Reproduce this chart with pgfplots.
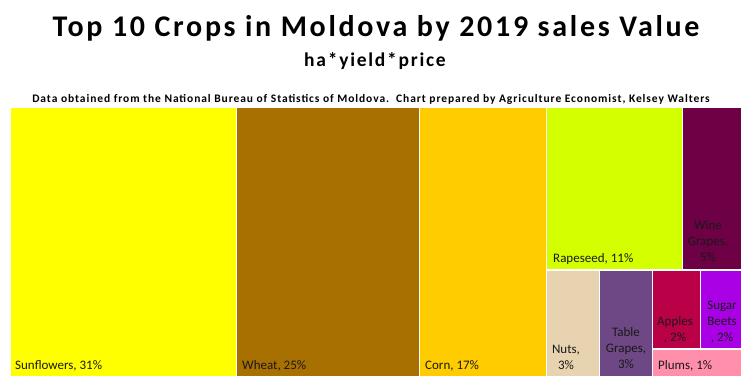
\documentclass[border=0pt]{standalone}
\usepackage{pgfplots}
\pgfplotsset{compat=1.18}
\usepackage{fontspec}
\setmainfont{Carlito}
\newfontfamily\titlefont[LetterSpace=9]{Carlito}
\newfontfamily\subfont[LetterSpace=9]{Carlito}
\newfontfamily\srcfont[LetterSpace=8]{Carlito}
\definecolor{csun}{HTML}{FFFF00}
\definecolor{cwheat}{HTML}{A87000}
\definecolor{ccorn}{HTML}{FFCC00}
\definecolor{crape}{HTML}{D4FF00}
\definecolor{cwine}{HTML}{6E0046}
\definecolor{cnuts}{HTML}{E8D3B0}
\definecolor{ctable}{HTML}{6E4785}
\definecolor{capple}{HTML}{BA0047}
\definecolor{csugar}{HTML}{AA00E6}
\definecolor{cplum}{HTML}{FF8FAB}
\begin{document}
\begin{tikzpicture}
\begin{axis}[
  width=752pt, height=384pt, scale only axis,
  xmin=0, xmax=752, ymin=0, ymax=384, y dir=reverse,
  hide axis, clip=false,
  every axis plot/.append style={draw=white, line width=1.2pt},
]
\addplot[draw=none, fill=white] coordinates {(0,0) (752,0) (752,384) (0,384)} -- cycle;
% treemap tiles (x1,y1)-(x2,y2) in picture units
\addplot[fill=csun]   coordinates {(10,107) (236.5,107) (236.5,377) (10,377)} -- cycle;
\addplot[fill=cwheat] coordinates {(236.5,107) (419.5,107) (419.5,377) (236.5,377)} -- cycle;
\addplot[fill=ccorn]  coordinates {(419.5,107) (546.5,107) (546.5,377) (419.5,377)} -- cycle;
\addplot[fill=crape]  coordinates {(546.5,107) (682.5,107) (682.5,270) (546.5,270)} -- cycle;
\addplot[fill=cwine]  coordinates {(682.5,107) (742,107) (742,270) (682.5,270)} -- cycle;
\addplot[fill=cnuts]  coordinates {(546.5,270) (599.5,270) (599.5,377) (546.5,377)} -- cycle;
\addplot[fill=ctable] coordinates {(599.5,270) (652.5,270) (652.5,377) (599.5,377)} -- cycle;
\addplot[fill=capple] coordinates {(652.5,270) (700.5,270) (700.5,349) (652.5,349)} -- cycle;
\addplot[fill=csugar] coordinates {(700.5,270) (742,270) (742,349) (700.5,349)} -- cycle;
\addplot[fill=cplum]  coordinates {(652.5,349) (742,349) (742,377) (652.5,377)} -- cycle;
% titles
\node[anchor=base, inner sep=0pt, font=\titlefont\bfseries\fontsize{30}{34}\selectfont] at (axis cs:376,36) {Top 10 Crops in Moldova by 2019 sales Value};
\node[anchor=base, inner sep=0pt, font=\subfont\bfseries\fontsize{19.5}{22}\selectfont] at (axis cs:375,66) {ha*yield*price};
\node[anchor=base, inner sep=0pt, font=\srcfont\bfseries\fontsize{11.5}{14}\selectfont] at (axis cs:371,102) {Data obtained from the National Bureau of Statistics of Moldova.\ \ Chart prepared by Agriculture Economist, Kelsey Walters};
% labels
\begin{scope}[every node/.style={font=\fontsize{13}{15.5}\selectfont, inner sep=0pt, text=black!90}]
\node[anchor=base west] at (axis cs:15,369) {Sunflowers, 31\%};
\node[anchor=base west] at (axis cs:242,369) {Wheat, 25\%};
\node[anchor=base west] at (axis cs:425,369) {Corn, 17\%};
\node[anchor=base west] at (axis cs:553,262) {Rapeseed, 11\%};
\node[anchor=base] at (axis cs:708,229) {Wine};
\node[anchor=base] at (axis cs:708,245) {Grapes,};
\node[anchor=base] at (axis cs:708,261) {5\%};
\node[anchor=base] at (axis cs:566,353) {Nuts,};
\node[anchor=base] at (axis cs:566,369) {3\%};
\node[anchor=base] at (axis cs:626,336) {Table};
\node[anchor=base] at (axis cs:626,352) {Grapes,};
\node[anchor=base] at (axis cs:626,368) {3\%};
\node[anchor=base] at (axis cs:675,325) {Apples};
\node[anchor=base] at (axis cs:675,341) {, 2\%};
\node[anchor=base] at (axis cs:722,309) {Sugar};
\node[anchor=base] at (axis cs:722,325) {Beets};
\node[anchor=base] at (axis cs:722,341) {, 2\%};
\node[anchor=base west] at (axis cs:658,369) {Plums, 1\%};
\end{scope}
\end{axis}
\end{tikzpicture}
\end{document}
